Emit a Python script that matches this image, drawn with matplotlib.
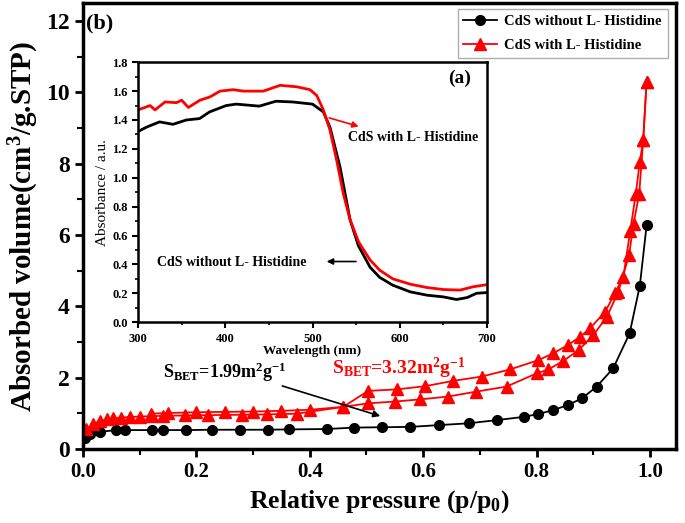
import matplotlib
matplotlib.use("Agg")
import matplotlib.pyplot as plt
from matplotlib.ticker import MultipleLocator

plt.rcParams['font.family'] = ['Liberation Serif', 'DejaVu Serif']
plt.rcParams['font.weight'] = 'bold'
plt.rcParams['mathtext.fontset'] = 'custom'
plt.rcParams['mathtext.rm'] = 'Liberation Serif:bold'
plt.rcParams['mathtext.it'] = 'Liberation Serif:bold'
plt.rcParams['mathtext.bf'] = 'Liberation Serif:bold'

# isotherm: CdS without L-Histidine
p_black = [0.0035, 0.012, 0.03, 0.058, 0.074, 0.121, 0.142, 0.182, 0.227, 0.277,
           0.327, 0.364, 0.43, 0.478, 0.527, 0.577, 0.628, 0.68, 0.73, 0.777,
           0.803, 0.829, 0.855, 0.88, 0.906, 0.935, 0.964, 0.982, 0.994]
v_black = [0.30, 0.42, 0.48, 0.53, 0.53, 0.53, 0.53, 0.53, 0.54, 0.54,
           0.54, 0.55, 0.56, 0.60, 0.61, 0.62, 0.67, 0.72, 0.81, 0.90,
           0.98, 1.09, 1.23, 1.42, 1.75, 2.26, 3.24, 4.57, 6.27]

# isotherm: CdS with L-Histidine, adsorption branch
p_red_ads = [0.005, 0.018, 0.03, 0.042, 0.053, 0.068, 0.083, 0.10, 0.121, 0.142,
             0.18, 0.221, 0.28, 0.324, 0.377, 0.459, 0.503, 0.550, 0.594, 0.644,
             0.694, 0.747, 0.80, 0.821, 0.847, 0.874, 0.90, 0.924, 0.944, 0.963,
             0.971, 0.981, 0.988, 0.994]
v_red_ads = [0.55, 0.70, 0.78, 0.83, 0.86, 0.88, 0.90, 0.91, 0.92, 0.93,
             0.94, 0.95, 0.96, 0.97, 0.99, 1.18, 1.28, 1.33, 1.39, 1.47,
             1.61, 1.75, 2.12, 2.23, 2.47, 2.77, 3.19, 3.71, 4.40, 5.43,
             6.32, 7.16, 8.66, 10.3]

# desorption branch
p_red_des = [0.994, 0.988, 0.982, 0.975, 0.965, 0.953, 0.938, 0.921, 0.894, 0.877,
             0.855, 0.829, 0.803, 0.753, 0.703, 0.653, 0.603, 0.553, 0.503, 0.459,
             0.40, 0.35, 0.30, 0.25, 0.20, 0.15, 0.12]
v_red_des = [10.3, 8.66, 8.05, 7.16, 6.1, 4.83, 4.36, 3.85, 3.38, 3.15,
             2.91, 2.68, 2.49, 2.23, 2.03, 1.91, 1.76, 1.67, 1.63, 1.18,
             1.10, 1.07, 1.05, 1.04, 1.03, 1.01, 0.99]

# inset UV-vis spectra
wl_red = [300, 313.8, 319.5, 331, 344, 350, 357.7, 371, 382.5, 394, 409, 420.7,
          443.6, 462.8, 481.9, 497, 504.8, 512.4, 520, 527.7, 535.3, 543, 552.5,
          554.4, 566, 577, 592, 612, 631, 650, 669, 684, 700]
abs_red = [1.47, 1.50, 1.47, 1.525, 1.52, 1.537, 1.487, 1.537, 1.56, 1.60, 1.61, 1.60,
           1.60, 1.64, 1.63, 1.61, 1.57, 1.47, 1.33, 1.12, 0.89, 0.71, 0.56,
           0.54, 0.43, 0.36, 0.30, 0.263, 0.24, 0.226, 0.222, 0.245, 0.26]
wl_black = [300, 309.5, 324.7, 340, 355.3, 370.6, 382, 401, 412.5, 439, 458, 477,
            500, 512.4, 520, 531.5, 543, 552.5, 566, 577, 592, 612, 631, 650,
            665, 677, 688, 700]
abs_black = [1.32, 1.35, 1.387, 1.37, 1.40, 1.41, 1.456, 1.50, 1.51, 1.496, 1.53, 1.525,
             1.51, 1.456, 1.35, 1.075, 0.71, 0.53, 0.38, 0.31, 0.256, 0.21, 0.187, 0.175,
             0.157, 0.17, 0.20, 0.205]

fig = plt.figure(figsize=(6.85, 5.23), dpi=100)
ax = fig.add_axes([0.121, 0.1415, 0.866, 0.8525])

ax.plot(p_black, v_black, '-o', color='black', lw=1.3, ms=7,
        label='CdS without L- Histidine')
ax.plot(p_red_ads, v_red_ads, '-^', color='red', lw=1.3, ms=8,
        label='CdS with L- Histidine')
ax.plot(p_red_des, v_red_des, '-^', color='red', lw=1.3, ms=8)

ax.set_xlim(0, 1.046)
ax.set_ylim(0, 12.5)
ax.xaxis.set_major_locator(MultipleLocator(0.2))
ax.xaxis.set_minor_locator(MultipleLocator(0.1))
ax.yaxis.set_major_locator(MultipleLocator(2))
ax.yaxis.set_minor_locator(MultipleLocator(1))
ax.xaxis.set_major_formatter(plt.FuncFormatter(lambda v, _: f"{v:.1f}"))
ax.tick_params(which='major', direction='out', length=6, width=2)
ax.tick_params(which='minor', direction='out', length=4, width=1.5)
ax.tick_params(axis='x', labelsize=15)
ax.tick_params(axis='y', labelsize=17)
for s in ax.spines.values():
    s.set_linewidth(2.5)

ax.set_xlabel("Relative pressure (p/p$_0$)", fontsize=18.5, fontweight='bold')
ax.set_ylabel("Absorbed volume(cm$^3$/g.STP)", fontsize=21, fontweight='bold', labelpad=4)

ax.text(0.03, 11.93, "(b)", fontsize=16, fontweight='bold', ha='center', va='center')

ax.text(0.141, 2.15, "S$_{BET}$=1.99m$^2$g$^{-1}$", fontsize=13, color='black', va='center')
ax.text(0.44, 2.26, "S$_{BET}$=3.32m$^2$g$^{-1}$", fontsize=14, color='red', va='center')
ax.annotate("", xy=(0.529, 0.90), xytext=(0.347, 1.79),
            arrowprops=dict(arrowstyle='-|>', color='black', lw=1.2, mutation_scale=10))

leg = ax.legend(loc='upper right', bbox_to_anchor=(0.993, 0.997), fontsize=10.5,
                frameon=True, fancybox=False, edgecolor='#999999',
                handlelength=2.3, borderaxespad=0.3, labelspacing=0.75,
                handletextpad=0.5)
leg.get_frame().set_linewidth(1.0)

# inset
ins = fig.add_axes([0.2015, 0.384, 0.5095, 0.497])
ins.plot(wl_black, abs_black, color='black', lw=2)
ins.plot(wl_red, abs_red, color='red', lw=2)
ins.set_xlim(300, 700)
ins.set_ylim(0, 1.8)
ins.xaxis.set_major_locator(MultipleLocator(100))
ins.xaxis.set_minor_locator(MultipleLocator(50))
ins.yaxis.set_major_locator(MultipleLocator(0.2))
ins.yaxis.set_minor_locator(MultipleLocator(0.1))
ins.yaxis.set_major_formatter(plt.FuncFormatter(lambda v, _: f"{v:.1f}"))
ins.tick_params(which='major', direction='out', length=4, width=1.5, labelsize=9)
ins.tick_params(which='minor', direction='out', length=2.5, width=1.2)
for s in ins.spines.values():
    s.set_linewidth(1.8)
ins.set_xlabel("Wavelength (nm)", fontsize=9.5, fontweight='bold', labelpad=0.5)
ins.set_ylabel("Absorbance / a.u.", fontsize=11, fontweight='normal', labelpad=2)

ins.text(669, 1.69, "(a)", fontsize=14, fontweight='bold', ha='center', va='center')
ins.text(541, 1.28, "CdS with L- Histidine", fontsize=10, fontweight='bold', va='center')
ins.annotate("", xy=(556, 1.35), xytext=(516, 1.42),
             arrowprops=dict(arrowstyle='-|>', color='red', lw=1.2, mutation_scale=9))
ins.text(322, 0.416, "CdS without L- Histidine", fontsize=10, fontweight='bold', va='center')
ins.annotate("", xy=(513, 0.42), xytext=(553, 0.42),
             arrowprops=dict(arrowstyle='-|>', color='black', lw=1.2, mutation_scale=9))

fig.savefig("out.png", dpi=100)
